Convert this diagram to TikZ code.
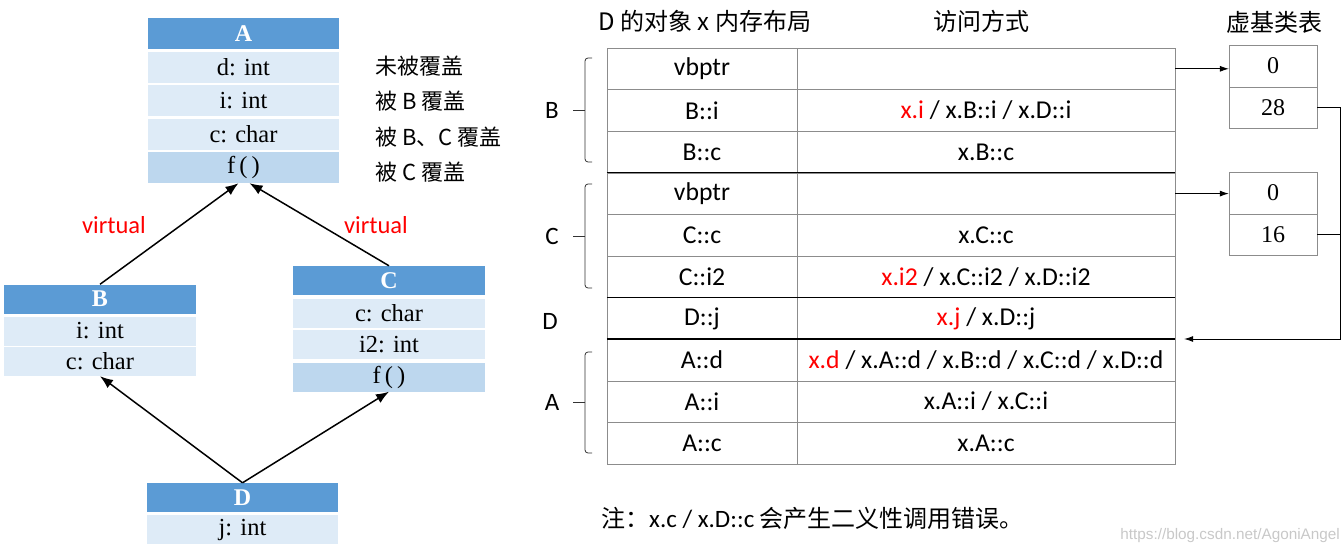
\documentclass[tikz,border=0pt]{standalone}
\usepackage{fontspec}
\setmainfont{Liberation Serif}
\newfontfamily\cjk{Noto Sans CJK SC}
\newfontfamily\calib{Carlito}
\newfontfamily\wmfont{Liberation Sans}
\usetikzlibrary{arrows.meta}
\definecolor{headblue}{HTML}{5B9BD5}
\definecolor{fieldblue}{HTML}{DEEBF7}
\definecolor{funcblue}{HTML}{BDD7EE}
\definecolor{gridgray}{HTML}{8C8C8C}
\definecolor{wmgray}{HTML}{C8C8C8}
\newcommand\redx[1]{\textcolor{red}{#1}}
\begin{document}
\begin{tikzpicture}[x=1pt, y=-1pt, every node/.style={inner sep=0pt},
  clshead/.style={fill=headblue, text=white, font=\fontsize{24}{26}\selectfont\bfseries, minimum width=191pt, minimum height=29pt},
  clsfield/.style={fill=fieldblue, font=\fontsize{24.5}{26}\selectfont, minimum width=191pt, minimum height=29pt},
  clsfunc/.style={clsfield, fill=funcblue},
  remark/.style={font=\cjk\fontsize{22}{24}\selectfont},
  virt/.style={text=red, font=\calib\fontsize{24.5}{26}\selectfont},
  inh/.style={-{Latex[length=13pt,width=10pt]}, line width=1.5pt},
  cellL/.style={draw=gridgray, minimum width=190pt, minimum height=41.6pt, font=\calib\fontsize{25.7}{28}\selectfont},
  cellR/.style={cellL, minimum width=378pt},
  sepline/.style={line width=1.6pt},
  vcell/.style={draw=gridgray, minimum width=88pt, minimum height=41.5pt, font=\fontsize{24}{26}\selectfont},
  ptr/.style={-{Latex[length=9pt,width=6pt]}, line width=0.8pt},
  grpline/.style={line width=0.8pt, draw=black!80},
  grplabel/.style={font=\calib\fontsize{25}{28}\selectfont},
  caption/.style={font=\cjk\fontsize{24}{26}\selectfont}]
  \useasboundingbox (0,0) rectangle (1343,553);

  \node[clshead, minimum height=31pt] (Ah) at (243.5,33.5) {A};
  \node[clsfield, minimum height=31pt] (Ad) at (243.5,67.5) {d: int};
  \node[clsfield, minimum height=31pt] (Ai) at (243.5,101) {i: int};
  \node[clsfield, minimum height=31pt] (Ac) at (243.5,134.5) {c: char};
  \node[clsfunc, minimum height=31pt] (Af) at (243.5,167.5) {f\,(\,)};
  \node[remark, anchor=west] (nd) at (375,66) {未被覆盖};
  \node[remark, anchor=west] (ni) at (375,101) {被 B 覆盖};
  \node[remark, anchor=west] (nc) at (375,137) {被 B、C 覆盖};
  \node[remark, anchor=west] (nf) at (375,172) {被 C 覆盖};

  \node[clshead, minimum width=192pt] (Bh) at (100,299) {B};
  \node[clsfield, minimum width=192pt] (Bi) at (100,331) {i: int};
  \node[clsfield, minimum width=192pt] (Bc) at (100,361.5) {c: char};

  \node[clshead, minimum width=192pt] (Ch) at (389,280.5) {C};
  \node[clsfield, minimum width=192pt] (Cc) at (389,313.5) {c: char};
  \node[clsfield, minimum width=192pt] (Ci) at (389,344.5) {i2: int};
  \node[clsfunc, minimum width=192pt] (Cf) at (389,377) {f\,(\,)};

  \node[clshead] (Dh) at (242.5,497.5) {D};
  \node[clsfield] (Dj) at (242.5,529.5) {j: int};

  \node[virt] (vleft) at (114,225) {virtual};
  \node[virt] (vright) at (376,225) {virtual};

  \draw[inh] (Bh.north) -- ([xshift=-5pt]Af.south);
  \draw[inh] (Ch.north) -- ([xshift=6pt]Af.south);
  \draw[inh] (Dh.north) -- (Bc.south);
  \draw[inh] (Dh.north) -- (Cf.south);

  \node[caption] (ttl) at (705,21) {D 的对象 x 内存布局};
  \node[caption] (acc) at (981,21) {访问方式};
  \node[caption] (vbt) at (1274,22) {虚基类表};

  \foreach \i/\lt/\rt in {1/vbptr/{},
      2/B::i/{\redx{x.i} / x.B::i / x.D::i},
      3/B::c/{x.B::c},
      4/vbptr/{},
      5/C::c/{x.C::c},
      6/C::i2/{\redx{x.i2} / x.C::i2 / x.D::i2},
      7/D::j/{\redx{x.j} / x.D::j},
      8/A::d/{\redx{x.d} / x.A::d / x.B::d / x.C::d / x.D::d},
      9/A::i/{x.A::i / x.C::i},
      10/A::c/{x.A::c}} {
    \node[cellL] (l\i) at (702,{48+41.6*(\i-0.5)}) {\lt};
    \node[cellR] (r\i) at (986,{48+41.6*(\i-0.5)}) {\rt};
  }
  \foreach \i in {4,7,8}
    \draw[sepline] (l\i.north west) -- (r\i.north east);

  \foreach \top/\bot/\grp in {58/162/B, 184/288/C, 352/453/A} {
    \draw[grpline, rounded corners=3pt] (592,\top) -- (585,\top) -- (585,\bot) -- (592,\bot);
    \draw[grpline] (585,{(\top+\bot)/2}) -- (573,{(\top+\bot)/2});
    \node[grplabel] (g\grp) at (552,{(\top+\bot)/2}) {\grp};
  }
  \node[grplabel] (gD) at (550,321) {D};

  \node[vcell] (v1a) at (1273,66) {0};
  \node[vcell] (v1b) at (1273,107.5) {28};
  \node[vcell] (v2a) at (1273,193) {0};
  \node[vcell] (v2b) at (1273,234.5) {16};

  \draw[ptr] (r1.east) -- (r1.east -| v1a.west);
  \draw[ptr] (r4.east) -- (r4.east -| v2a.west);
  \draw[ptr] (v1b.east) -- ++(23,0) coordinate (bend) |- ([xshift=9pt]r8.north east);
  \draw[line width=0.8pt] (v2b.east) -- (v2b.east -| bend);

  \node[anchor=west, caption] (note) at (601,518) {注：{\calib\fontsize{25}{28}\selectfont x.c / x.D::c} 会产生二义性调用错误。};
  \node[anchor=east, text=wmgray, font=\wmfont\fontsize{15.3}{17}\selectfont] (wmark) at (1340,536) {https://blog.csdn.net/AgoniAngel};
\end{tikzpicture}
\end{document}
